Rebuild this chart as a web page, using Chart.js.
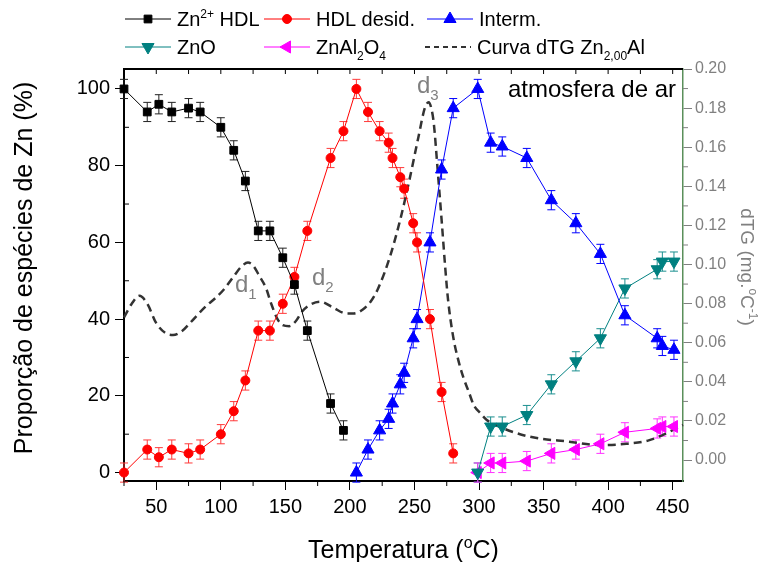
<!DOCTYPE html>
<html>
<head>
<meta charset="utf-8">
<script src="https://cdn.jsdelivr.net/npm/chart.js@4"></script>
<style>
    html, body { margin: 0; padding: 0; background: #fff; }
    #wrap { width: 765px; height: 562px; }
</style>
</head>
<body>
<div id="wrap"><canvas id="chart" width="765" height="562"></canvas></div>
<script>
// ==================== Data ====================
const tempHDL = [25, 43, 52, 62, 75, 84, 100, 110, 119, 129, 138, 148, 157, 167, 185, 195];
const znHDL = [100, 94, 96, 94, 95, 94, 90, 84, 76, 63, 63, 56, 49, 37, 18, 11];

const tempDesid = [25, 43, 52, 62, 75, 84, 100, 110, 119, 129, 138, 148, 157, 167, 185, 195,
    205, 214, 223, 230, 233, 239, 242, 249, 252, 262, 271, 280];
const hdlDesid = [0, 6, 4, 6, 5, 6, 10, 16, 24, 37, 37, 44, 51, 63, 82, 89,
    100, 94, 89, 86, 82, 77, 74, 65, 60, 40, 21, 5];

const tempInterm = [205, 214, 223, 230, 233, 239, 242, 249, 252, 262, 271, 280,
    299, 309, 318, 337, 356, 375, 394, 413, 438, 442, 451];
const interm = [0, 6, 11, 14, 18, 23, 26, 35, 40, 60, 79, 95,
    100, 86, 85, 82, 71, 65, 57, 41, 35, 33, 32];

const tempOxide = [299, 309, 318, 337, 356, 375, 394, 413, 438, 442, 451];
const zno = [0, 12, 12, 15, 23, 29, 35, 48, 53, 55, 55];
const spinel = [0, 2.5, 2.5, 3, 5, 6, 7.5, 10.5, 11.5, 12, 12];

const errPct = 2.5;

const dtgTemp = [25, 31, 37, 43, 50, 57, 63, 70, 76, 83, 89, 96, 102, 110, 116, 121, 125, 130, 135, 139,
    144, 148, 153, 158, 163, 168, 177, 187, 197, 203, 210, 216, 222, 231, 239, 246, 253, 258, 261, 263,
    265, 268, 271, 274, 276, 280, 284, 288, 292, 296, 301, 306, 316, 339, 370, 394, 414, 432, 450, 458];
const dtg = [0.073, 0.080, 0.084, 0.080, 0.070, 0.065, 0.064, 0.066, 0.070, 0.075, 0.079, 0.083, 0.087, 0.094, 0.099, 0.101, 0.0995, 0.094, 0.088, 0.080,
    0.072, 0.069, 0.0685, 0.071, 0.076, 0.079, 0.081, 0.078, 0.075, 0.075, 0.077, 0.081, 0.088, 0.104, 0.123, 0.143, 0.165, 0.180, 0.183, 0.180,
    0.172, 0.148, 0.123, 0.097, 0.082, 0.063, 0.051, 0.042, 0.035, 0.028, 0.024, 0.0205, 0.017, 0.012, 0.0094, 0.0077, 0.0083, 0.0102, 0.0153, 0.018];

const xTicks = [50, 100, 150, 200, 250, 300, 350, 400, 450];
const yTicks = [0, 20, 40, 60, 80, 100];
const dtgTicks = [0, 0.02, 0.04, 0.06, 0.08, 0.10, 0.12, 0.14, 0.16, 0.18, 0.20];

// ==================== Helpers ====================
const FONT = '"Liberation Sans", Arial, sans-serif';
Chart.defaults.font.family = FONT;

const pts = (xs, ys) => xs.map((x, i) => ({ x: x, y: ys[i] }));

// draws text made of [text, mode] parts, mode 0 normal, 1 sup, -1 sub
function richText(ctx, parts, x, y, size, color, align) {
    const fontOf = m => (m ? Math.round(size * 0.62) : size) + "px " + FONT;
    let w = 0;
    parts.forEach(([t, m]) => { ctx.font = fontOf(m); w += ctx.measureText(t).width; });
    let cx = align === "center" ? x - w / 2 : align === "right" ? x - w : x;
    ctx.fillStyle = color;
    ctx.textAlign = "left";
    ctx.textBaseline = "alphabetic";
    parts.forEach(([t, m]) => {
        ctx.font = fontOf(m);
        const dy = m === 1 ? -size * 0.4 : m === -1 ? size * 0.3 : 0;
        ctx.fillText(t, cx, y + dy);
        cx += ctx.measureText(t).width;
    });
}

// ==================== Plugin: error bars, frame, texts, legend ====================
const extras = {
    id: "extras",
    beforeDatasetsDraw(chart) {
        const ctx = chart.ctx;
        const yScale = chart.scales.y;
        chart.data.datasets.forEach((ds, i) => {
            if (!ds.errColor) return;
            const meta = chart.getDatasetMeta(i);
            ctx.save();
            ctx.strokeStyle = ds.errColor;
            ctx.lineWidth = 1;
            meta.data.forEach((el, j) => {
                const v = ds.data[j].y;
                const top = yScale.getPixelForValue(v + errPct);
                const bot = yScale.getPixelForValue(v - errPct);
                ctx.beginPath();
                ctx.moveTo(el.x, top); ctx.lineTo(el.x, bot);
                ctx.moveTo(el.x - 4, top); ctx.lineTo(el.x + 4, top);
                ctx.moveTo(el.x - 4, bot); ctx.lineTo(el.x + 4, bot);
                ctx.stroke();
            });
            ctx.restore();
        });
    },
    afterDraw(chart) {
        const ctx = chart.ctx;
        const a = chart.chartArea;
        const xs = chart.scales.x, ys = chart.scales.y, y2 = chart.scales.y2;
        ctx.save();

        // top frame line
        ctx.strokeStyle = "#000";
        ctx.lineWidth = 2;
        ctx.beginPath();
        ctx.moveTo(a.left - 1, a.top); ctx.lineTo(a.right, a.top);
        ctx.stroke();

        // minor / extra ticks
        ctx.lineWidth = 1;
        ctx.beginPath();
        for (let v = 25; v <= 450; v += 25) {
            const px = xs.getPixelForValue(v);
            ctx.moveTo(px, a.top); ctx.lineTo(px, a.top + 5);
            if (v % 50) { ctx.moveTo(px, a.bottom); ctx.lineTo(px, a.bottom + 5); }
        }
        for (let v = 10; v <= 100; v += 20) {
            const py = ys.getPixelForValue(v);
            ctx.moveTo(a.left, py); ctx.lineTo(a.left + 5, py);
        }
        ctx.stroke();
        ctx.strokeStyle = "#808080";
        ctx.beginPath();
        for (let k = 1; k < 20; k += 2) {
            const py = y2.getPixelForValue(k / 100);
            ctx.moveTo(a.right, py); ctx.lineTo(a.right + 5, py);
        }
        ctx.stroke();

        // axis titles
        richText(ctx, [["Temperatura (", 0], ["o", 1], ["C)", 0]], (a.left + a.right) / 2, 558, 25, "#000", "center");
        ctx.save();
        ctx.translate(23, 268);
        ctx.rotate(-Math.PI / 2);
        richText(ctx, [["Proporção de espécies de Zn (%)", 0]], 0, 9, 25, "#000", "center");
        ctx.restore();
        ctx.save();
        ctx.translate(748, 267);
        ctx.rotate(Math.PI / 2);
        richText(ctx, [["dTG (mg.", 0], ["o", 1], ["C", 0], ["-1", 1], [")", 0]], 0, 7, 19, "#808080", "center");
        ctx.restore();

        // annotations
        richText(ctx, [["atmosfera de ar", 0]], 676, 97, 24, "#000", "right");
        richText(ctx, [["d", 0], ["1", -1]], 235, 292, 24, "#808080");
        richText(ctx, [["d", 0], ["2", -1]], 312, 285, 24, "#808080");
        richText(ctx, [["d", 0], ["3", -1]], 417, 93, 24, "#808080");

        // legend
        const items = [
            { ds: 0, x: 125, y: 26, parts: [["Zn", 0], ["2+", 1], [" HDL", 0]] },
            { ds: 1, x: 264, y: 26, parts: [["HDL desid.", 0]] },
            { ds: 2, x: 427, y: 26, parts: [["Interm.", 0]] },
            { ds: 3, x: 125, y: 54, parts: [["ZnO", 0]] },
            { ds: 4, x: 264, y: 54, parts: [["ZnAl", 0], ["2", -1], ["O", 0], ["4", -1]] },
            { ds: 5, x: 425, y: 54, parts: [["Curva dTG Zn", 0], ["2,00", -1], ["Al", 0]] }
        ];
        items.forEach(it => {
            const ds = chart.data.datasets[it.ds];
            const cy = it.y - 7;
            ctx.save();
            ctx.strokeStyle = ds.borderColor;
            ctx.lineWidth = ds.borderDash ? 2 : 1;
            ctx.setLineDash(ds.borderDash ? [5, 4] : []);
            ctx.beginPath();
            ctx.moveTo(it.x, cy); ctx.lineTo(it.x + 46, cy);
            ctx.stroke();
            ctx.restore();
            if (ds.pointRadius) {
                ctx.fillStyle = ds.borderColor;
                ctx.strokeStyle = ds.borderColor;
                Chart.helpers.drawPoint(ctx, {
                    pointStyle: ds.pointStyle, radius: ds.pointRadius,
                    rotation: ds.pointRotation || 0, borderWidth: 1
                }, it.x + 23, cy);
            }
            richText(ctx, it.parts, it.x + 52, it.y, 20, "#000");
        });
        ctx.restore();
    }
};

// ==================== Chart ====================
const fixedTicks = list => axis => { axis.ticks = list.map(v => ({ value: v })); };

new Chart(document.getElementById("chart"), {
    type: "line",
    data: {
        datasets: [
            {
                label: "Zn2+ HDL", data: pts(tempHDL, znHDL), borderColor: "#000", backgroundColor: "#000",
                borderWidth: 1, pointStyle: "rect", pointRadius: 5.5, errColor: "#222"
            },
            {
                label: "HDL desid.", data: pts(tempDesid, hdlDesid), borderColor: "#ff0000", backgroundColor: "#ff0000",
                borderWidth: 1, pointStyle: "circle", pointRadius: 4.5, errColor: "#ff3a3a"
            },
            {
                label: "Interm.", data: pts(tempInterm, interm), borderColor: "#0000ff", backgroundColor: "#0000ff",
                borderWidth: 1, pointStyle: "triangle", pointRadius: 7, errColor: "#0000ff"
            },
            {
                label: "ZnO", data: pts(tempOxide, zno), borderColor: "#008080", backgroundColor: "#008080",
                borderWidth: 1, pointStyle: "triangle", pointRotation: 180, pointRadius: 7, errColor: "#1a8f8f"
            },
            {
                label: "ZnAl2O4", data: pts(tempOxide, spinel), borderColor: "#ff00ff", backgroundColor: "#ff00ff",
                borderWidth: 1, pointStyle: "triangle", pointRotation: 270, pointRadius: 7, errColor: "#ff33ff"
            },
            {
                label: "Curva dTG Zn2,00Al", data: pts(dtgTemp, dtg), yAxisID: "y2", borderColor: "#333",
                borderWidth: 2.5, borderDash: [8, 5], pointRadius: 0, cubicInterpolationMode: "monotone"
            }
        ]
    },
    options: {
        responsive: false,
        animation: false,
        devicePixelRatio: 1,
        layout: { padding: { top: 69, left: 0, right: 0, bottom: 0 } },
        datasets: { line: { clip: false } },
        plugins: { legend: { display: false }, tooltip: { enabled: false } },
        scales: {
            x: {
                type: "linear", position: "bottom", min: 25, max: 458,
                afterBuildTicks: fixedTicks(xTicks),
                afterFit: s => { s.height = 81; },
                ticks: { color: "#000", font: { size: 20 }, padding: 5, maxRotation: 0, autoSkip: false },
                grid: { drawOnChartArea: false, tickLength: 9, color: "#000" },
                border: { color: "#000", width: 2 }
            },
            y: {
                position: "left", min: -2.2, max: 105.2,
                afterBuildTicks: fixedTicks(yTicks),
                afterFit: s => { s.width = 124; },
                ticks: { color: "#000", font: { size: 20 }, padding: 5 },
                grid: { drawOnChartArea: false, tickLength: 9, color: "#000" },
                border: { color: "#000", width: 2 }
            },
            y2: {
                position: "right", min: -0.0107, max: 0.20,
                afterBuildTicks: fixedTicks(dtgTicks),
                afterFit: s => { s.width = 82; },
                ticks: { color: "#808080", font: { size: 16 }, padding: 3, callback: v => v.toFixed(2) },
                grid: { drawOnChartArea: false, tickLength: 9, color: "#808080" },
                border: { color: "#5a8f5a", width: 1.5 }
            }
        }
    },
    plugins: [extras]
});
</script>
</body>
</html>
